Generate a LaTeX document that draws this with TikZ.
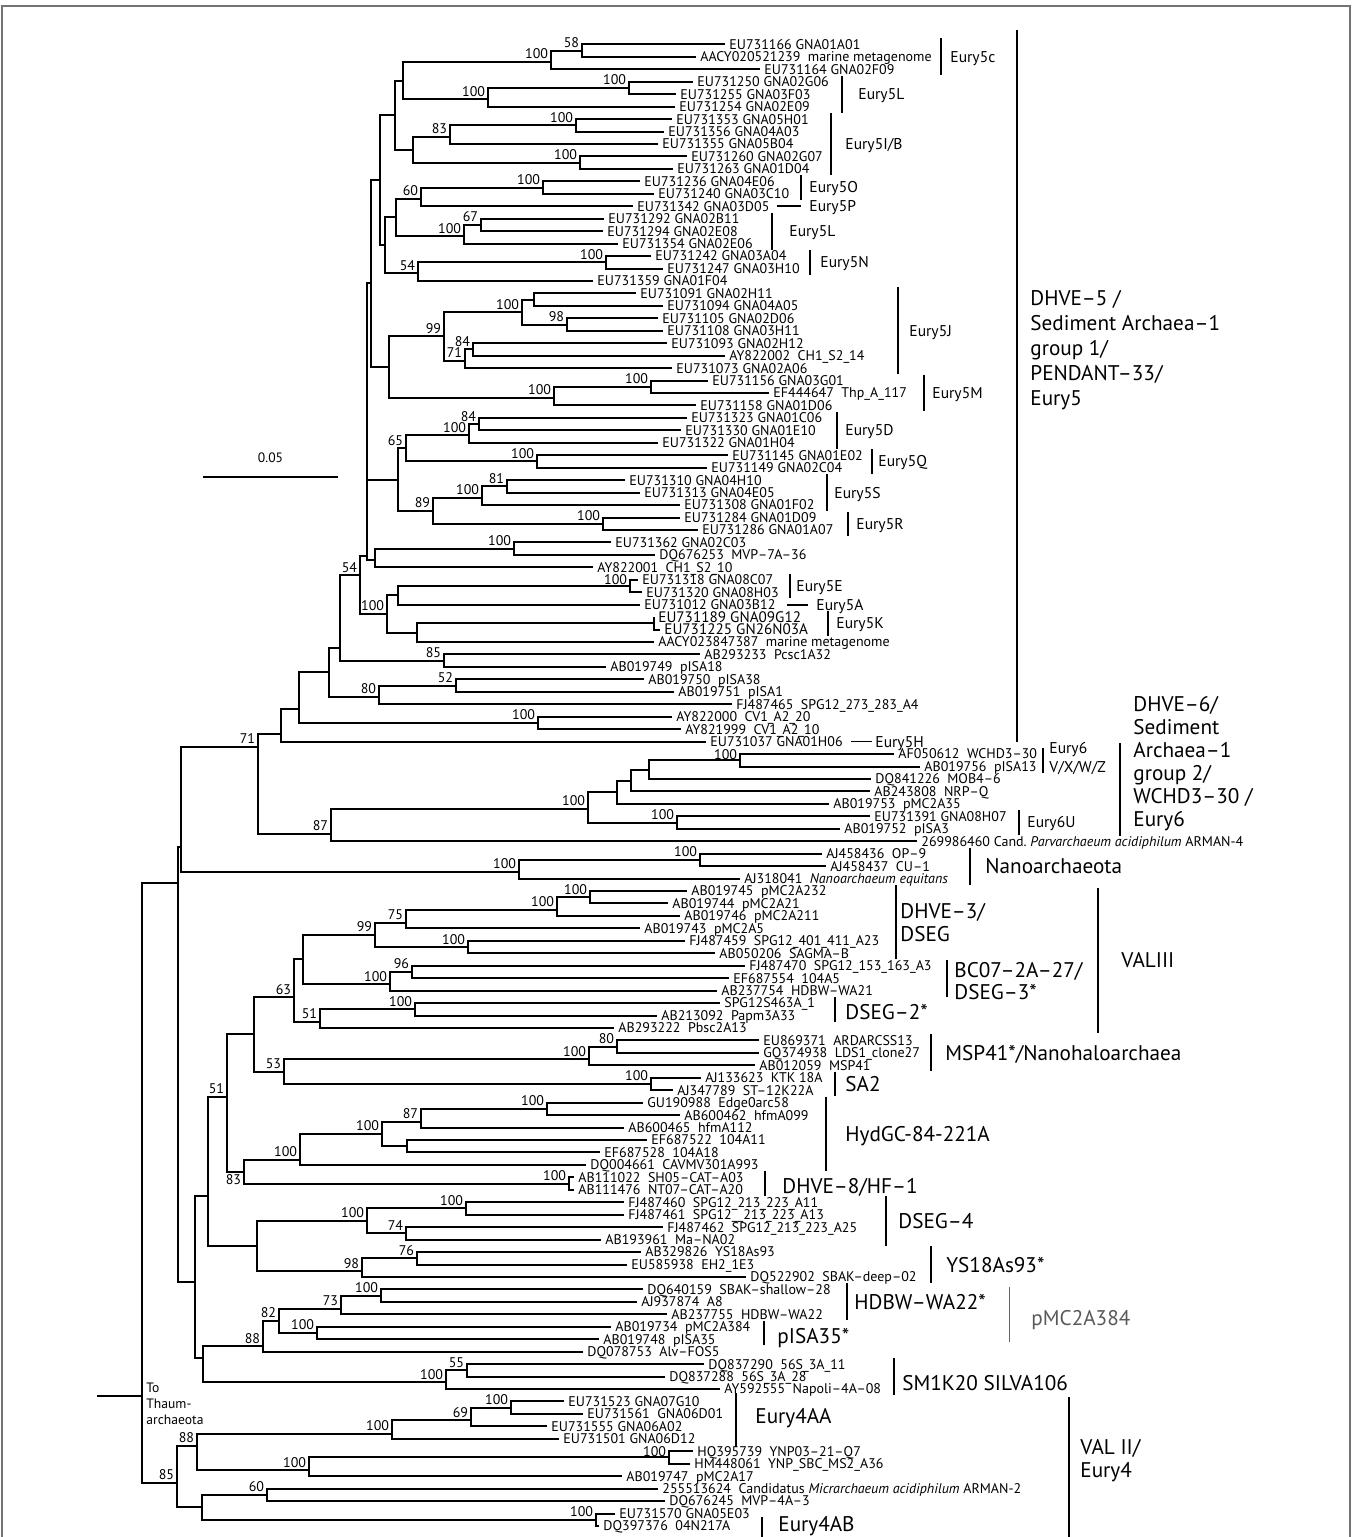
\documentclass[tikz,border=0pt]{standalone}
\usepackage{fontspec}
\setmainfont{PT Sans}
\usetikzlibrary{calc}
\pgfmathdeclarefunction{ly}{1}{\pgfmathparse{44.4+(#1-1)*12.45}}
\newcommand\tLeaf[4][lf]{%
  \coordinate (L#2) at ({#3-4},{ly(#2)});
  \node[#1] (T#2) at (#3,{ly(#2)+4.9}) {#4};}
\newcommand\tNode[6]{%
  \coordinate (#1M) at ($(#4)!#3!(#5)$);
  \coordinate (#1X) at (#2,0);
  \coordinate (#1) at (#1X |- #1M);
  \draw[br] (#4) -- (#1X |- #4) -- (#1X |- #5) -- (#5);
  \if\relax\detokenize{#6}\relax\else
    \node[bs] (#1B) at ($(#1)+(-2.5,-3)$) {#6};
  \fi}
\newcommand\tBar[4]{\draw[gbs] (#2,{ly(#3)-6}) coordinate (#1A) -- (#2,{ly(#4)+6}) coordinate (#1Z);}
\newcommand\tMed[4]{\node[gm] (#1) at (#2,{#3+5.4}) {#4};}
\newcommand\tBig[4]{\node[gL] (#1) at (#2,{#3+7.4}) {#4};}
\begin{document}
\begin{tikzpicture}[x=0.5pt,y=-0.5pt,
  br/.style={line width=1pt},
  gbs/.style={line width=0.85pt},
  lf/.style={font=\fontsize{7}{8}\selectfont, inner sep=0pt, anchor=base west},
  lfb/.style={font=\fontsize{7.6}{8}\selectfont, inner sep=0pt, anchor=base west},
  bs/.style={font=\fontsize{7}{7}\selectfont, inner sep=0pt, anchor=base east},
  gm/.style={font=\fontsize{7.8}{8}\selectfont, inner sep=0pt, anchor=base west},
  gL/.style={font=\fontsize{10.6}{12}\selectfont, inner sep=0pt, anchor=base west},
  th/.style={font=\fontsize{6.8}{7}\selectfont, inner sep=0pt, anchor=base west},
  fr/.style={line width=0.6pt, black!55}]
\useasboundingbox (0,0) rectangle (1359,1537);
\draw[fr] (2,1545) coordinate (frA) -- (2,6) coordinate (frB) -- (1350,6) coordinate (frC) -- (1350,1545) coordinate (frD);
% ---------------- leaves
\tLeaf{1}{729}{EU731166 GNA01A01}
\tLeaf{2}{700}{AACY020521239~ marine metagenome}
\tLeaf{3}{764}{EU731164 GNA02F09}
\tLeaf{4}{697}{EU731250 GNA02G06}
\tLeaf{5}{680}{EU731255 GNA03F03}
\tLeaf{6}{679}{EU731254 GNA02E09}
\tLeaf{7}{676}{EU731353 GNA05H01}
\tLeaf{8}{668}{EU731356 GNA04A03}
\tLeaf{9}{662}{EU731355 GNA05B04}
\tLeaf{10}{691}{EU731260 GNA02G07}
\tLeaf{11}{677}{EU731263 GNA01D04}
\tLeaf{12}{644}{EU731236 GNA04E06}
\tLeaf{13}{658}{EU731240 GNA03C10}
\tLeaf{14}{637}{EU731342 GNA03D05}
\tLeaf{15}{608}{EU731292 GNA02B11}
\tLeaf{16}{607}{EU731294 GNA02E08}
\tLeaf{17}{622}{EU731354 GNA02E06}
\tLeaf{18}{655}{EU731242 GNA03A04}
\tLeaf{19}{667}{EU731247 GNA03H10}
\tLeaf{20}{597}{EU731359 GNA01F04}
\tLeaf{21}{640}{EU731091 GNA02H11}
\tLeaf{22}{667}{EU731094 GNA04A05}
\tLeaf{23}{662}{EU731105 GNA02D06}
\tLeaf{24}{667}{EU731108 GNA03H11}
\tLeaf{25}{671}{EU731093 GNA02H12}
\tLeaf{26}{729}{AY822002~ CH1\_S2\_14}
\tLeaf{27}{676}{EU731073 GNA02A06}
\tLeaf{28}{712}{EU731156 GNA03G01}
\tLeaf{29}{773}{EF444647~ Thp\_A\_117}
\tLeaf{30}{700}{EU731158 GNA01D06}
\tLeaf{31}{691}{EU731323 GNA01C06}
\tLeaf{32}{685}{EU731330 GNA01E10}
\tLeaf{33}{662}{EU731322 GNA01H04}
\tLeaf{34}{732}{EU731145 GNA01E02}
\tLeaf{35}{711}{EU731149 GNA02C04}
\tLeaf{36}{629}{EU731310 GNA04H10}
\tLeaf{37}{644}{EU731313 GNA04E05}
\tLeaf{38}{684}{EU731308 GNA01F02}
\tLeaf{39}{684}{EU731284 GNA01D09}
\tLeaf{40}{702}{EU731286 GNA01A07}
\tLeaf{41}{615}{EU731362 GNA02C03}
\tLeaf{42}{659}{DQ676253~ MVP–7A–36}
\tLeaf{43}{597}{AY822001~ CH1\_S2\_10}
\tLeaf{44}{642}{EU731318 GNA08C07}
\tLeaf{45}{646}{EU731320 GNA08H03}
\tLeaf{46}{644}{EU731012 GNA03B12}
\tLeaf[lfb]{47}{658}{EU731189 GNA09G12}
\tLeaf[lfb]{48}{664}{EU731225 GN26N03A}
\tLeaf{49}{658}{AACY023847387~ marine metagenome}
\tLeaf{50}{704}{AB293233~ Pcsc1A32}
\tLeaf{51}{610}{AB019749~ pISA18}
\tLeaf{52}{648}{AB019750~ pISA38}
\tLeaf{53}{678}{AB019751~ pISA1}
\tLeaf{54}{736}{FJ487465~ SPG12\_273\_283\_A4}
\tLeaf{55}{676}{AY822000~ CV1\_A2\_20}
\tLeaf{56}{685}{AY821999~ CV1\_A2\_10}
\tLeaf{57}{710}{EU731037 GNA01H06}
\tLeaf{58}{898}{AF050612~ WCHD3–30}
\tLeaf{59}{924}{AB019756~ pISA13}
\tLeaf{60}{875}{DQ841226~ MOB4–6}
\tLeaf{61}{874}{AB243808~ NRP–Q}
\tLeaf{62}{833}{AB019753~ pMC2A35}
\tLeaf{63}{874}{EU731391 GNA08H07}
\tLeaf{64}{844}{AB019752~ pISA3}
\tLeaf{65}{921}{269986460 Cand.\ \textit{Parvarchaeum acidiphilum} ARMAN-4}
\tLeaf{66}{826}{AJ458436~ OP–9}
\tLeaf{67}{830}{AJ458437~ CU–1}
\tLeaf{68}{744}{AJ318041~ \textit{Nanoarchaeum equitans}}
\tLeaf{69}{691}{AB019745~ pMC2A232}
\tLeaf{70}{672}{AB019744~ pMC2A21}
\tLeaf{71}{684}{AB019746~ pMC2A211}
\tLeaf{72}{644}{AB019743~ pMC2A5}
\tLeaf{73}{689}{FJ487459~ SPG12\_401\_411\_A23}
\tLeaf{74}{719}{AB050206~ SAGMA–B}
\tLeaf{75}{749}{FJ487470~ SPG12\_153\_163\_A3}
\tLeaf{76}{733}{EF687554~ 104A5}
\tLeaf{77}{721}{AB237754~ HDBW–WA21}
\tLeaf{78}{724}{SPG12S463A\_1}
\tLeaf{79}{661}{AB213092~ Papm3A33}
\tLeaf{80}{618}{AB293222~ Pbsc2A13}
\tLeaf{81}{763}{EU869371~ ARDARCSS13}
\tLeaf{82}{763}{GQ374938~ LDS1\_clone27}
\tLeaf{83}{759}{AB012059~ MSP41}
\tLeaf{84}{705}{AJ133623~ KTK 18A}
\tLeaf{85}{677}{AJ347789~ ST–12K22A}
\tLeaf{86}{647}{GU190988~ Edge0arc58}
\tLeaf{87}{684}{AB600462~ hfmA099}
\tLeaf{88}{628}{AB600465~ hfmA112}
\tLeaf{89}{651}{EF687522~ 104A11}
\tLeaf{90}{604}{EF687528~ 104A18}
\tLeaf{91}{590}{DQ004661~ CAVMV301A993}
\tLeaf{92}{578}{AB111022~ SH05–CAT–A03}
\tLeaf{93}{578}{AB111476~ NT07–CAT–A20}
\tLeaf{94}{628}{FJ487460~ SPG12\_213\_223\_A11}
\tLeaf{95}{628}{FJ487461~ SPG12\_\_213\_223\_A13}
\tLeaf{96}{667}{FJ487462~ SPG12\_213\_223\_A25}
\tLeaf{97}{605}{AB193961~ Ma–NA02}
\tLeaf{98}{645}{AB329826~ YS18As93}
\tLeaf{99}{631}{EU585938~ EH2\_1E3}
\tLeaf{100}{750}{DQ522902~ SBAK–deep–02}
\tLeaf{101}{647}{DQ640159~ SBAK–shallow–28}
\tLeaf{102}{641}{AJ937874~ A8}
\tLeaf{103}{671}{AB237755~ HDBW–WA22}
\tLeaf{104}{615}{AB019734~ pMC2A384}
\tLeaf{105}{603}{AB019748~ pISA35}
\tLeaf{106}{587}{DQ078753~ Alv–FOS5}
\tLeaf{107}{708}{DQ837290~ 56S\_3A\_11}
\tLeaf{108}{669}{DQ837288~ 56S\_3A\_28}
\tLeaf{109}{724}{AY592555~ Napoli–4A–08}
\tLeaf{110}{568}{EU731523 GNA07G10}
\tLeaf{111}{587}{EU731561~ GNA06D01}
\tLeaf{112}{551}{EU731555 GNA06A02}
\tLeaf{113}{563}{EU731501 GNA06D12}
\tLeaf{114}{697}{HQ395739~ YNP03–21–Q7}
\tLeaf{115}{694}{HM448061~ YNP\_SBC\_MS2\_A36}
\tLeaf{116}{626}{AB019747~ pMC2A17}
\tLeaf{117}{662}{255513624~ Candidatus \textit{Micrarchaeum acidiphilum} ARMAN-2}
\tLeaf{118}{669}{DQ676245~ MVP–4A–3}
\tLeaf{119}{619}{EU731570 GNA05E03}
\tLeaf{120}{603}{DQ397376~ 04N217A}
% ---------------- internal nodes
\tNode{n58}{582}{.5}{L1}{L2}{58}
\tNode{n100a}{551}{.6}{n58}{L3}{100}
\tNode{n100b}{629}{.5}{L4}{L5}{100}
\tNode{n100c}{488}{.6}{n100b}{L6}{100}
\tNode{n403}{403}{.5}{n100a}{n100c}{}
\tNode{n100d}{576}{.5}{L7}{L8}{100}
\tNode{n83a}{450}{.6}{n100d}{L9}{83}
\tNode{n100e}{580}{.5}{L10}{L11}{100}
\tNode{n413}{413}{.5}{n83a}{n100e}{}
\tNode{n395}{395}{.5}{n403}{n413}{}
\tNode{n100f}{543}{.5}{L12}{L13}{100}
\tNode{n60}{421}{.6}{n100f}{L14}{60}
\tNode{n67}{481}{.5}{L15}{L16}{67}
\tNode{n100g}{464}{.6}{n67}{L17}{100}
\tNode{n396}{396}{.5}{n60}{n100g}{}
\tNode{n100h}{606}{.5}{L18}{L19}{100}
\tNode{n54b}{418}{.6}{n100h}{L20}{54}
\tNode{n385}{385}{.5}{n396}{n54b}{}
\tNode{na}{380}{.5}{n395}{n385}{}
\tNode{n534}{534}{.5}{L21}{L22}{}
\tNode{n98a}{567}{.5}{L23}{L24}{98}
\tNode{n100i}{522}{.5}{n534}{n98a}{100}
\tNode{n84}{473}{.5}{L25}{L26}{84}
\tNode{n71}{465}{.6}{n84}{L27}{71}
\tNode{n99}{444}{.5}{n100i}{n71}{99}
\tNode{n100j}{651}{.5}{L28}{L29}{100}
\tNode{n100k}{554}{.6}{n100j}{L30}{100}
\tNode{n389}{389}{.5}{n99}{n100k}{}
\tNode{nb}{371}{.55}{na}{n389}{}
\tNode{n84b}{479}{.5}{L31}{L32}{84}
\tNode{n100l}{469}{.6}{n84b}{L33}{100}
\tNode{n100m}{537}{.5}{L34}{L35}{100}
\tNode{n65}{406}{.5}{n100l}{n100m}{65}
\tNode{n81}{507}{.5}{L36}{L37}{81}
\tNode{n100n}{482}{.6}{n81}{L38}{100}
\tNode{n100o}{603}{.5}{L39}{L40}{100}
\tNode{n89}{433}{.5}{n100n}{n100o}{89}
\tNode{n398}{398}{.5}{n65}{n89}{}
\tNode{n100p}{514}{.5}{L41}{L42}{100}
\tNode{n375}{375}{.6}{n100p}{L43}{}
\coordinate (ndX) at (367,0);
\coordinate (nd) at (367,556);
\draw[br] (nb) -- (ndX |- nb) -- (ndX |- n375) -- (n375);
\draw[br] (ndX |- n398) -- (n398);
\tNode{n100q}{630}{.5}{L44}{L45}{}
\node[bs] (n100qB) at ($(n100q)+(-2.5,-1)$) {100};
\tNode{n459}{398}{.5}{n100q}{L46}{}
\tNode{n100r}{654}{.5}{L47}{L48}{}
\tNode{n493}{417}{.5}{n100r}{L49}{}
\tNode{n100s}{387}{.5}{n459}{n493}{100}
\tNode{n54}{360}{.33}{nd}{n100s}{54}
\tNode{n85a}{444}{.5}{L50}{L51}{85}
\tNode{n340}{340}{.85}{n54}{n85a}{}
\tNode{n52}{456}{.5}{L52}{L53}{52}
\tNode{n80}{379}{.6}{n52}{L54}{80}
\tNode{n329}{329}{.5}{n340}{n80}{}
\tNode{n100t}{538}{.5}{L55}{L56}{100}
\tNode{n299}{299}{.73}{n329}{n100t}{}
\tNode{n281}{281}{.765}{n299}{L57}{}
\tNode{n100u}{740}{.5}{L58}{L59}{}
\node[bs] (n100uB) at ($(n100u)+(-2.5,-1.2)$) {100};
\tNode{n782}{649}{.5}{n100u}{L60}{}
\tNode{n757}{631}{.5}{n782}{L61}{}
\tNode{n737}{617}{.5}{n757}{L62}{}
\tNode{n100v}{677}{.5}{L63}{L64}{100}
\tNode{n100w}{588}{.55}{n737}{n100v}{100}
\tNode{n87}{331}{.77}{n100w}{L65}{87}
\tNode{n71b}{258}{.127}{n281}{n87}{71}
\tNode{n100x}{700}{.5}{L66}{L67}{100}
\tNode{n100y}{519}{.63}{n100x}{L68}{100}
\tNode{n181}{181}{.8}{n71b}{n100y}{}
\tNode{n100z}{590}{.5}{L69}{L70}{100}
\tNode{n100aa}{557}{.67}{n100z}{L71}{100}
\tNode{n75}{406}{.69}{n100aa}{L72}{75}
\tNode{n100ab}{468}{.5}{L73}{L74}{100}
\tNode{n99b}{375}{.5}{n75}{n100ab}{99}
\tNode{n96}{412}{.5}{L75}{L76}{96}
\tNode{n100bc}{390}{.65}{n96}{L77}{100}
\tNode{n303}{303}{.5}{n99b}{n100bc}{}
\tNode{n100dd}{415}{.5}{L78}{L79}{100}
\tNode{n51c}{320}{.66}{n100dd}{L80}{51}
\tNode{n63}{294}{.606}{n303}{n51c}{63}
\tNode{n80b}{617}{.5}{L81}{L82}{80}
\tNode{n100ms}{589}{.67}{n80b}{L83}{100}
\tNode{n100sa}{651}{.5}{L84}{L85}{100}
\tNode{n53}{284}{.5}{n100ms}{n100sa}{53}
\tNode{n254}{254}{.5}{n63}{n53}{}
\tNode{n100hy}{547}{.5}{L86}{L87}{100}
\tNode{n87h}{421}{.68}{n100hy}{L88}{87}
\tNode{n437}{407}{.5}{L89}{L90}{}
\tNode{n100hz}{382}{.5}{n87h}{n437}{100}
\tNode{n300}{300}{.83}{n100hz}{L91}{100}
\tNode{n100de}{569}{.5}{L92}{L93}{100}
\tNode{n83}{244}{.5}{n300}{n100de}{}
\node[bs, anchor=north east] (n83B) at ($(n83)+(-2.5,3)$) {83};
\tNode{n51}{227}{.455}{n254}{n83}{51}
\tNode{n100fa}{466}{.5}{L94}{L95}{100}
\tNode{n74}{406}{.5}{L96}{L97}{74}
\tNode{n100fb}{367}{.5}{n100fa}{n74}{100}
\tNode{n76}{417}{.5}{L98}{L99}{76}
\tNode{n98}{362}{.69}{n76}{L100}{98}
\tNode{n256}{257}{.5}{n100fb}{n98}{}
\tNode{n208}{208}{.667}{n51}{n256}{}
\tNode{n100hd}{381}{.5}{L101}{L102}{100}
\tNode{n73}{341}{.69}{n100hd}{L103}{73}
\tNode{n100pi}{317}{.5}{L104}{L105}{100}
\tNode{n82}{279}{.5}{n73}{n100pi}{82}
\tNode{n88}{263}{.83}{n82}{L106}{88}
\tNode{n55}{467}{.5}{L107}{L108}{55}
\tNode{n100sm}{446}{.63}{n55}{L109}{100}
\tNode{n203}{203}{.33}{n88}{n100sm}{}
\tNode{n195}{195}{.53}{n208}{n203}{}
\tNode{n178}{178}{.084}{n181}{n195}{}
\tNode{n100ga}{511}{.5}{L110}{L111}{100}
\tNode{n69}{471}{.67}{n100ga}{L112}{69}
\tNode{n100gb}{392}{.73}{n69}{L113}{100}
\tNode{n100yn}{669}{.5}{L114}{L115}{}
\node[bs] (n100ynB) at ($(n100yn)+(-2.5,-1)$) {100};
\tNode{n100yp}{309}{.69}{n100yn}{L116}{100}
\tNode{n88b}{197}{.33}{n100gb}{n100yp}{88}
\tNode{n60b}{267}{.5}{L117}{L118}{60}
\tNode{n100gc}{596}{.5}{L119}{L120}{100}
\tNode{n202}{202}{.5}{n60b}{n100gc}{}
\tNode{n85b}{177}{.6}{n88b}{n202}{85}
\tNode{n142}{142}{.855}{n178}{n85b}{}
\coordinate (rootX) at (97,0);
\coordinate (root) at (rootX |- n142);
\draw[br] (root) -- (n142);
\node[th] (th1) at (146,1392) {To};
\node[th] (th2) at (146,1408) {Thaum-};
\node[th] (th3) at (146,1424) {archaeota};
% scale bar
\coordinate (sbL) at (203,477);
\coordinate (sbR) at (338,477);
\draw[br] (sbL) -- (sbR);
\node[font=\fontsize{6.8}{7}\selectfont, inner sep=0pt] (sbT) at (270.5,458) {0.05};
% ---------------- group bars
\tBar{b5c}{941}{1}{3}
\tBar{b5L}{842}{4}{6}
\tBar{b5IB}{831}{7}{11}
\tBar{b5O}{801}{12}{13}
\tBar{b5LL}{772}{15}{17}
\tBar{b5N}{810}{18}{19}
\tBar{b5J}{898}{21}{27}
\tBar{b5M}{924}{28}{30}
\tBar{b5D}{837}{31}{33}
\tBar{b5Q}{872}{34}{35}
\tBar{b5S}{827}{36}{38}
\tBar{b5R}{848}{39}{40}
\tBar{b5E}{790}{44}{45}
\tBar{b5K}{828}{47}{48}
\tBar{b6}{1043}{58}{59}
\tBar{b6U}{1019}{63}{64}
\tBar{bNano}{970}{66}{68}
\tBar{bD3}{896}{69}{74}
\tBar{bBC}{947}{75}{77}
\tBar{bD2}{835}{78}{79}
\tBar{bMSP}{931}{81}{83}
\tBar{bSA}{835}{84}{85}
\tBar{bHyd}{826}{86}{91}
\tBar{bD8}{765}{92}{93}
\tBar{bD4}{886}{94}{97}
\tBar{bYS}{931}{98}{100}
\tBar{bHD}{847}{101}{103}
\tBar{bPI}{764}{104}{105}
\tBar{bSM}{894}{107}{109}
\draw[gbs] (1017,30) coordinate (bD5A) -- (1017,742) coordinate (bD5Z);
\draw[gbs] (1120,743) coordinate (bD6A) -- (1120,836) coordinate (bD6Z);
\draw[gbs] (1098,888) coordinate (bV3A) -- (1098,1033) coordinate (bV3Z);
\draw[gbs, black!60] (1009.5,1287) coordinate (bpMA) -- (1009.5,1342) coordinate (bpMZ);
\draw[gbs] (736,1393) coordinate (b4AA) -- (736,1447) coordinate (b4AZ);
\draw[gbs] (1069,1397) coordinate (bV2A) -- (1069,1545) coordinate (bV2Z);
\draw[gbs] (762,1517) coordinate (b4BA) -- (762,1545) coordinate (b4BZ);
% dashes to group names
\draw[gbs] (777,{ly(14)}) coordinate (d5PA) -- (801,{ly(14)}) coordinate (d5PZ);
\draw[gbs] (787,{ly(46)}) coordinate (d5AA) -- (808,{ly(46)}) coordinate (d5AZ);
\draw[gbs] (851,{ly(57)}) coordinate (d5HA) -- (872,{ly(57)}) coordinate (d5HZ);
% ---------------- group labels (medium)
\tMed{t5c}{950}{ly(2)}{Eury5c}
\tMed{t5L}{858}{ly(5)}{Eury5L}
\tMed{t5IB}{845}{ly(9)}{Eury5I/B}
\tMed{t5O}{809}{(ly(12)+ly(13))/2}{Eury5O}
\tMed{t5P}{809}{ly(14)}{Eury5P}
\tMed{t5LL}{789}{ly(16)}{Eury5L}
\tMed{t5N}{820}{(ly(18)+ly(19))/2}{Eury5N}
\tMed{t5J}{909}{ly(24)}{Eury5J}
\tMed{t5M}{932}{ly(29)}{Eury5M}
\tMed{t5D}{845}{ly(32)}{Eury5D}
\tMed{t5Q}{878}{(ly(34)+ly(35))/2}{Eury5Q}
\tMed{t5S}{834}{ly(37)}{Eury5S}
\tMed{t5R}{856}{(ly(39)+ly(40))/2}{Eury5R}
\tMed{t5E}{796}{(ly(44)+ly(45))/2}{Eury5E}
\tMed{t5A}{816}{ly(46)}{Eury5A}
\tMed{t5K}{836}{(ly(47)+ly(48))/2}{Eury5K}
\tMed{t5H}{875}{ly(57)}{Eury5H}
\tMed{t6}{1049}{748}{Eury6}
\tMed{t6v}{1049}{767}{V/X/W/Z}
\tMed{t6U}{1027}{(ly(63)+ly(64))/2}{Eury6U}
% ---------------- group labels (large)
\tBig{tD5a}{1030}{298}{DHVE–5 /}
\tBig{tD5b}{1030}{323}{Sediment Archaea–1}
\tBig{tD5c}{1030}{348}{group 1/}
\tBig{tD5d}{1030}{373}{PENDANT–33/}
\tBig{tD5e}{1030}{398}{Eury5}
\tBig{tD6a}{1133}{704}{DHVE–6/}
\tBig{tD6b}{1133}{727}{Sediment}
\tBig{tD6c}{1133}{750}{Archaea–1}
\tBig{tD6d}{1133}{773}{group 2/}
\tBig{tD6e}{1133}{796}{WCHD3–30 /}
\tBig{tD6f}{1133}{819}{Eury6}
\tBig{tNano}{985}{ly(67)}{Nanoarchaeota}
\tBig{tD3a}{900}{911}{DHVE–3/}
\tBig{tD3b}{900}{934}{DSEG}
\tBig{tBCa}{954}{970}{BC07–2A–27/}
\tBig{tBCb}{954}{992}{DSEG–3*}
\tBig{tV3}{1121}{960}{VALIII}
\tBig{tD2}{845}{1012}{DSEG–2*}
\tBig{tMSP}{945}{ly(82)}{MSP41*/Nanohaloarchaea}
\tBig{tSA}{845}{1084}{SA2}
\tBig{tHyd}{845}{1134}{HydGC-84-221A}
\tBig{tD8}{782}{1186}{DHVE–8/HF–1}
\tBig{tD4}{898}{1221}{DSEG–4}
\tBig{tYS}{946}{1265}{YS18As93*}
\tBig{tHD}{854}{1302}{HDBW–WA22*}
\tBig{tPI}{777}{1336}{pISA35*}
\node[gL, text=black!65] (tpM) at (1031,{1318+7.4}) {pMC2A384};
\tBig{tSM}{902}{1383}{SM1K20 SILVA106}
\tBig{t4AA}{755}{1416}{Eury4AA}
\tBig{tV2a}{1080}{1447}{VAL II/}
\tBig{tV2b}{1080}{1470}{Eury4}
\tBig{t4AB}{778}{1524}{Eury4AB}
\end{tikzpicture}
\end{document}
